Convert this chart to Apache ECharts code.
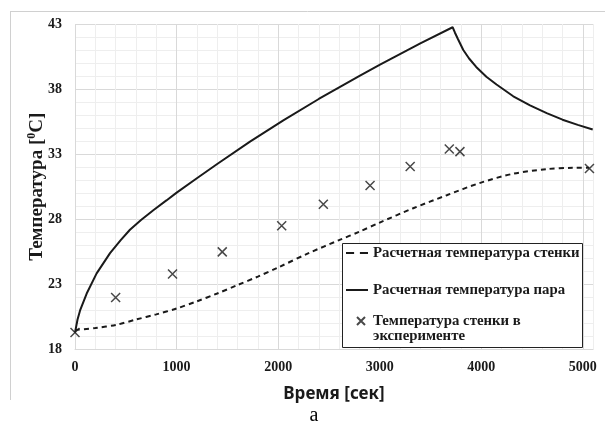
<!DOCTYPE html>
<html><head><meta charset="utf-8">
<script src="https://cdn.jsdelivr.net/npm/echarts@6/dist/echarts.min.js"></script>
<style>html,body{margin:0;padding:0;background:#fff}#c{width:605px;height:425px}</style>
</head><body><div id="c"></div>
<script>
// Steam temperature (calculated)
var steamTime = [0,25,50,115,213,345,450,541,650,771,900,1001,1200,1400,1723,2051,2400,2806,3003,3400,3718,3740,3770,3823,3880,3950,4050,4150,4315,4480,4644,4800,4950,5097];
var steamTemp = [19.3,20.3,21.0,22.3,23.85,25.4,26.4,27.2,27.95,28.7,29.45,30.05,31.15,32.25,33.96,35.6,37.24,39.03,39.88,41.51,42.75,42.35,41.85,41.0,40.35,39.7,38.95,38.35,37.45,36.75,36.15,35.65,35.25,34.9];
// Wall temperature (calculated)
var wallTime = [0,200,410,600,800,1000,1200,1400,1600,1800,2000,2300,2600,2800,3000,3330,3660,3990,4315,4640,4900,5063];
var wallTemp = [19.5,19.65,19.9,20.3,20.7,21.15,21.7,22.3,22.95,23.6,24.3,25.4,26.4,27.05,27.75,28.85,29.85,30.8,31.5,31.85,31.95,31.95];
// Wall temperature (experiment)
var expTime = [0,400,960,1450,2035,2445,2905,3300,3685,3790,5065];
var expTemp = [19.3,22.0,23.8,25.5,27.5,29.15,30.6,32.05,33.4,33.2,31.9];

var seriesNames = ['Расчетная температура стенки','Расчетная температура пара','Температура стенки в\nэксперименте'];
var xLabelStep = 1000, yLabelStep = 5, yMin = 18, yMax = 43, xMax = 5100;

function pairs(a,b){return a.map(function(v,i){return [v,b[i]];});}

var serif = 'Liberation Serif';
var ink = '#1a1a1a';
var major = '#d9d9d9', minor = '#eeeeee';
var legendText = {fontFamily:serif, fontWeight:'bold', fontSize:14.8, color:ink, lineHeight:15};
var chart = echarts.init(document.getElementById('c'), null, {renderer:'canvas'});
chart.setOption({
  animation:false,
  backgroundColor:'#fff',
  grid:{left:75, top:24, right:12, bottom:75.5, containLabel:false},
  graphic:[
    {type:'line', shape:{x1:10.5,y1:11,x2:10.5,y2:400}, style:{stroke:'#d0d0d0',lineWidth:1}},
    {type:'line', shape:{x1:10,y1:11.5,x2:605,y2:11.5}, style:{stroke:'#d0d0d0',lineWidth:1}},
    {type:'rect', z:9, shape:{x:342.5,y:243.5,width:240,height:104}, style:{fill:'#fff',stroke:'#222',lineWidth:1}},
    {type:'text', x:314, y:416, style:{text:'а', font:'20px "Liberation Serif"', fill:'#000', textAlign:'center', textVerticalAlign:'middle'}}
  ],
  xAxis:{
    type:'value', min:0, max:xMax, interval:200,
    name:'Время [сек]', nameLocation:'middle', nameGap:36, nameMoveOverlap:false,
    nameTextStyle:{fontFamily:'Noto Sans', fontWeight:'bold', fontSize:17, color:ink},
    axisLine:{show:true, lineStyle:{color:major}},
    axisTick:{show:false},
    axisLabel:{margin:11, fontFamily:serif, fontWeight:'bold', fontSize:14, color:ink,
      formatter:function(v){return v % xLabelStep === 0 ? String(v) : '';}},
    splitLine:{show:true, lineStyle:{color:[major,minor,minor,minor,minor], width:1}}
  },
  yAxis:{
    type:'value', min:yMin, max:yMax, interval:1,
    name:'{a|Температура [}{s|0}{a|C]}', nameLocation:'middle', nameGap:27, nameMoveOverlap:false,
    nameTextStyle:{rich:{
      a:{fontFamily:serif, fontWeight:'bold', fontSize:19, color:ink, lineHeight:22},
      s:{fontFamily:serif, fontWeight:'bold', fontSize:12, color:ink, verticalAlign:'top', lineHeight:22}
    }},
    axisLine:{show:false},
    axisTick:{show:false},
    axisLabel:{margin:13, fontFamily:serif, fontWeight:'bold', fontSize:14, color:ink,
      formatter:function(v){return (v - yMin) % yLabelStep === 0 ? String(v) : '';}},
    splitLine:{show:true, lineStyle:{color:[major,minor,minor,minor,minor], width:1}}
  },
  legend:[
    {
      orient:'vertical', left:346, top:245.5, selectedMode:false, z:10,
      padding:0, itemWidth:22, itemHeight:14, itemGap:22,
      itemStyle:{borderWidth:0}, lineStyle:{width:0},
      textStyle:legendText,
      data:[
        {name:seriesNames[0], icon:'path://M0,0H7V1.8H0Z M12,0H19V1.8H12Z'},
        {name:seriesNames[1], icon:'path://M0,0H22V2H0Z'}
      ]
    },
    {
      orient:'vertical', left:356, top:298.5, selectedMode:false, z:10,
      padding:0, itemWidth:14, itemHeight:8,
      textStyle:legendText,
      formatter:function(n){return '\n' + n;},
      data:[{name:seriesNames[2], icon:'path://M0,0L10,10M10,0L0,10'}]
    }
  ],
  series:[
    {name:seriesNames[0], type:'line', data:pairs(wallTime,wallTemp), symbol:'none', smooth:0.3,
      lineStyle:{color:ink, width:2, type:[5,4]}, itemStyle:{color:ink}},
    {name:seriesNames[1], type:'line', data:pairs(steamTime,steamTemp), symbol:'none',
      lineStyle:{color:ink, width:2}, itemStyle:{color:ink}},
    {name:seriesNames[2], type:'scatter', data:pairs(expTime,expTemp),
      symbol:'path://M0,0L10,10M10,0L0,10', symbolSize:9,
      itemStyle:{color:'rgba(0,0,0,0)', borderColor:ink, borderWidth:1.5}}
  ]
});
</script></body></html>
